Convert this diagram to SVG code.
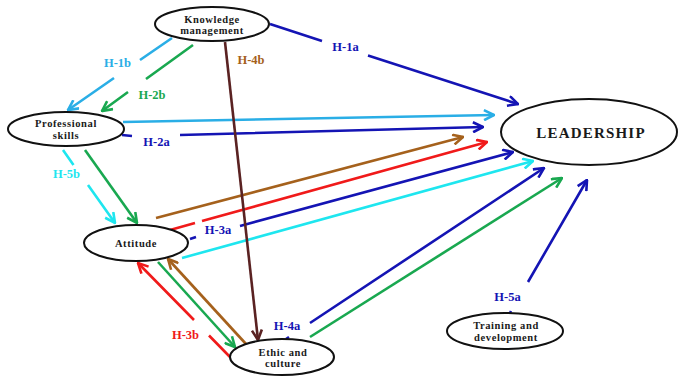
<svg xmlns="http://www.w3.org/2000/svg" width="680" height="378" viewBox="0 0 680 378">
<style>
.n ellipse{fill:#fff;stroke:#111;stroke-width:2}
.n text{font-family:"Liberation Serif","Times New Roman",serif;font-weight:bold;font-size:10.5px;fill:#1a1a1a;text-anchor:middle;letter-spacing:0.6px}
.c path{fill:none;stroke-width:2.6}
.lb{font-family:"Liberation Serif","Times New Roman",serif;font-weight:bold;font-size:12.5px;text-anchor:middle}
.blue{stroke:#1414b4}.lblue{stroke:#2aaee6}.cyan{stroke:#1ee6ef}.green{stroke:#19a850}.red{stroke:#f01a1a}.brown{stroke:#a5611c}.maroon{stroke:#5a2222}
</style>
<defs>
<marker id="aBlue" viewBox="0 0 12 12" refX="11" refY="6" markerWidth="12" markerHeight="12" markerUnits="userSpaceOnUse" orient="auto"><path d="M1,1 L11,6 L1,11" fill="none" stroke="#1414b4" stroke-width="2.6"/></marker>
<marker id="aLblue" viewBox="0 0 12 12" refX="11" refY="6" markerWidth="12" markerHeight="12" markerUnits="userSpaceOnUse" orient="auto"><path d="M1,1 L11,6 L1,11" fill="none" stroke="#2aaee6" stroke-width="2.6"/></marker>
<marker id="aCyan" viewBox="0 0 12 12" refX="11" refY="6" markerWidth="12" markerHeight="12" markerUnits="userSpaceOnUse" orient="auto"><path d="M1,1 L11,6 L1,11" fill="none" stroke="#1ee6ef" stroke-width="2.6"/></marker>
<marker id="aGreen" viewBox="0 0 12 12" refX="11" refY="6" markerWidth="12" markerHeight="12" markerUnits="userSpaceOnUse" orient="auto"><path d="M1,1 L11,6 L1,11" fill="none" stroke="#19a850" stroke-width="2.6"/></marker>
<marker id="aRed" viewBox="0 0 12 12" refX="11" refY="6" markerWidth="12" markerHeight="12" markerUnits="userSpaceOnUse" orient="auto"><path d="M1,1 L11,6 L1,11" fill="none" stroke="#f01a1a" stroke-width="2.6"/></marker>
<marker id="aBrown" viewBox="0 0 12 12" refX="11" refY="6" markerWidth="12" markerHeight="12" markerUnits="userSpaceOnUse" orient="auto"><path d="M1,1 L11,6 L1,11" fill="none" stroke="#a5611c" stroke-width="2.6"/></marker>
<marker id="aMaroon" viewBox="0 0 12 12" refX="11" refY="6" markerWidth="12" markerHeight="12" markerUnits="userSpaceOnUse" orient="auto"><path d="M1,1 L11,6 L1,11" fill="none" stroke="#5a2222" stroke-width="2.6"/></marker>
</defs>
<g id="connectors" class="c">
<path class="blue" d="M270,24 L322,41 M368,55.5 L518,104" marker-end="url(#aBlue)"/>
<path class="lblue" d="M172,38 L140,60 M114,78 L68,110" marker-end="url(#aLblue)"/>
<path class="green" d="M193,45 L146,79 M128,92 L102,111" marker-end="url(#aGreen)"/>
<path class="lblue" d="M123,122 L494,115" marker-end="url(#aLblue)"/>
<path class="blue" d="M122,135 L132,136 M180,135 L483,127" marker-end="url(#aBlue)"/>
<path class="brown" d="M156,218 L463,137" marker-end="url(#aBrown)"/>
<path class="red" d="M170,230 L195,223 M202,221 L487,142" marker-end="url(#aRed)"/>
<path class="blue" d="M190,239 L196,237 M240,226 L513,152" marker-end="url(#aBlue)"/>
<path class="cyan" d="M182,258 L533,161" marker-end="url(#aCyan)"/>
<path class="cyan" d="M63,150 L73.5,165 M88,185 L115,223" marker-end="url(#aCyan)"/>
<path class="green" d="M85,150 L137,223" marker-end="url(#aGreen)"/>
<path class="red" d="M230,357 L209,335.5 M194,320 L138,263" marker-end="url(#aRed)"/>
<path class="green" d="M158,262 L235,347" marker-end="url(#aGreen)"/>
<path class="brown" d="M246,344 L168,259" marker-end="url(#aBrown)"/>
<path class="blue" d="M286,339 L289,337 M310,323 L544,168" marker-end="url(#aBlue)"/>
<path class="green" d="M310,337 L562,178" marker-end="url(#aGreen)"/>
<path class="blue" d="M510,313 L511,311 M528,282 L587,180" marker-end="url(#aBlue)"/>
<path class="maroon" d="M225,42 L258,340" marker-end="url(#aMaroon)"/>
</g>
<g id="labels">
<text class="lb" x="345.5" y="51" fill="#1414b4">H-1a</text>
<text class="lb" x="117.5" y="67" fill="#2aaee6">H-1b</text>
<text class="lb" x="152" y="99" fill="#19a850">H-2b</text>
<text class="lb" x="251" y="64" fill="#a5611c">H-4b</text>
<text class="lb" x="156.5" y="146" fill="#1414b4">H-2a</text>
<text class="lb" x="66.5" y="178" fill="#1ee6ef">H-5b</text>
<text class="lb" x="218" y="234" fill="#1414b4">H-3a</text>
<text class="lb" x="185.5" y="339" fill="#f01a1a">H-3b</text>
<text class="lb" x="287" y="330" fill="#1414b4">H-4a</text>
<text class="lb" x="507.5" y="301" fill="#1414b4">H-5a</text>
</g>
<g id="knowledge" class="n">
<ellipse cx="212" cy="24" rx="57" ry="17"/>
<text x="212" y="22.5">Knowledge</text>
<text x="212" y="34">management</text>
</g>
<g id="professional" class="n">
<ellipse cx="66" cy="129" rx="58" ry="17"/>
<text x="66" y="127">Professional</text>
<text x="66" y="138.5">skills</text>
</g>
<g id="attitude" class="n">
<ellipse cx="136" cy="243" rx="52" ry="18"/>
<text x="136" y="247">Attitude</text>
</g>
<g id="ethic" class="n">
<ellipse cx="282" cy="357" rx="52" ry="18"/>
<text x="283" y="355.5">Ethic and</text>
<text x="283" y="367">culture</text>
</g>
<g id="training" class="n">
<ellipse cx="505" cy="331" rx="58" ry="18"/>
<text x="506" y="329">Training and</text>
<text x="506" y="340.5">development</text>
</g>
<g id="leadership" class="n">
<ellipse cx="589" cy="132" rx="88" ry="33"/>
<text x="591" y="138" style="font-size:15px;letter-spacing:1.2px">LEADERSHIP</text>
</g>
</svg>
